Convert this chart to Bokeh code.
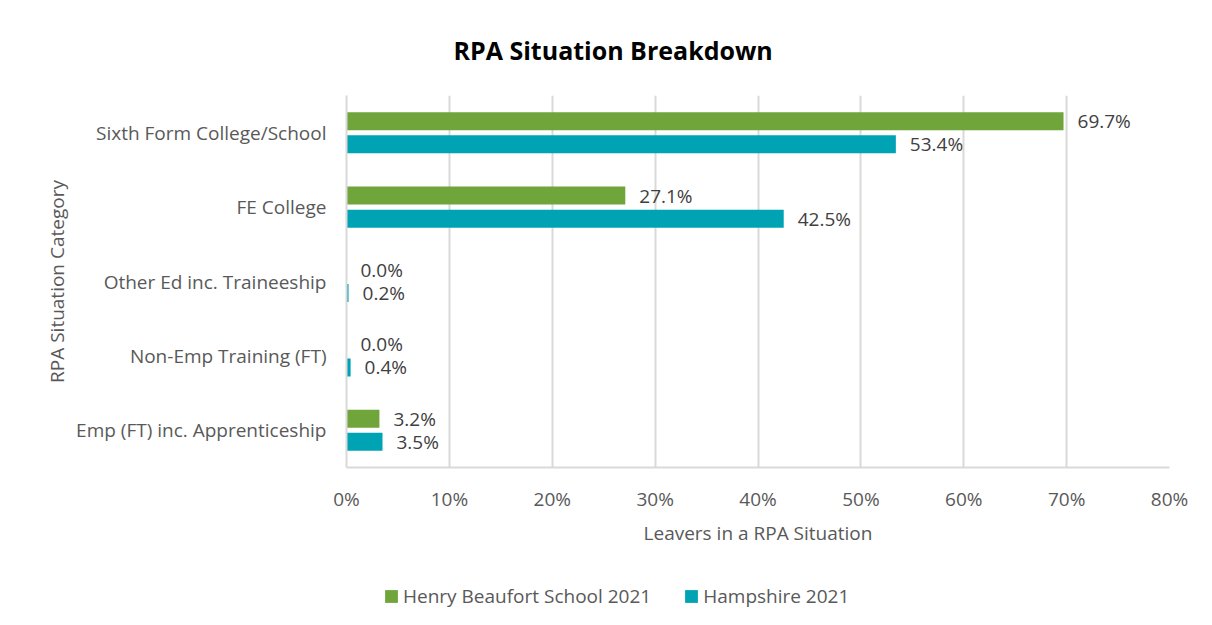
from bokeh.plotting import figure
from bokeh.layouts import column
from bokeh.models import ColumnDataSource, FactorRange, Legend, LegendItem, PrintfTickFormatter, FixedTicker
from bokeh.transform import dodge
from bokeh.core.properties import value
from bokeh.embed import file_html
from bokeh.resources import INLINE

categories = ["Sixth Form College/School", "FE College", "Other Ed inc. Traineeship",
              "Non-Emp Training (FT)", "Emp (FT) inc. Apprenticeship"]
henry_beaufort_2021 = [69.7, 27.1, 0.0, 0.0, 3.2]
hampshire_2021 = [53.4, 42.5, 0.2, 0.4, 3.5]
series_names = ["Henry Beaufort School 2021", "Hampshire 2021"]
x_ticks = [0, 10, 20, 30, 40, 50, 60, 70, 80]

GREEN = "#6FA53B"
TEAL = "#00A3B4"
FONT = "Open Sans"
FS = "19px"

src = ColumnDataSource(dict(
    cat=categories,
    hb=henry_beaufort_2021,
    hs=hampshire_2021,
    hb_lbl=[f"{v:.1f}%" for v in henry_beaufort_2021],
    hs_lbl=[f"{v:.1f}%" for v in hampshire_2021],
))

p = figure(width=1196, height=560, output_backend="svg", toolbar_location=None,
           y_range=FactorRange(*reversed(categories), range_padding=0),
           x_range=(0, 80),
           min_border_left=346, min_border_right=27, min_border_top=95, min_border_bottom=93)
p.outline_line_color = None
p.background_fill_color = "white"

p.title.text = "RPA Situation Breakdown"
p.title.align = "left"
p.title.offset = 107
p.title.text_font = FONT
p.title.text_font_size = "25px"
p.title.text_font_style = "bold"
p.title.text_color = "#000000"
p.title.standoff = 58

off = 0.155
h = 0.242
r1 = p.hbar(y=dodge("cat", off, range=p.y_range), right="hb", height=h, left=0, source=src,
            fill_color=GREEN, line_color=None)
r2 = p.hbar(y=dodge("cat", -off, range=p.y_range), right="hs", height=h, left=0, source=src,
            fill_color=TEAL, line_color=None)

for col, lbl, o in (("hb", "hb_lbl", off), ("hs", "hs_lbl", -off)):
    p.text(x=col, y=dodge("cat", o, range=p.y_range), text=lbl, source=src,
           x_offset=14, text_align="left", text_baseline="middle",
           text_font=value(FONT), text_font_size=FS, text_color="#404040")

p.xaxis.ticker = FixedTicker(ticks=x_ticks)
p.xaxis.formatter = PrintfTickFormatter(format="%d%%")
for ax in (p.xaxis[0], p.yaxis[0]):
    ax.major_tick_line_color = None
    ax.minor_tick_line_color = None
    ax.axis_line_color = "#D9D9D9"
    ax.axis_line_width = 2
    ax.major_label_text_font = FONT
    ax.major_label_text_font_size = FS
    ax.major_label_text_color = "#595959"
    ax.axis_label_text_font = FONT
    ax.axis_label_text_font_size = FS
    ax.axis_label_text_font_style = "normal"
    ax.axis_label_text_color = "#595959"
p.xaxis.major_label_standoff = 12
p.yaxis.major_label_standoff = 14
p.xaxis.axis_label = "Leavers in a RPA Situation"
p.xaxis.axis_label_standoff = 5
p.yaxis.axis_label = "RPA Situation Category"
p.yaxis.axis_label_standoff = 3

p.xgrid.grid_line_color = "#D9D9D9"
p.xgrid.grid_line_width = 2
p.ygrid.grid_line_color = None

# legend strip (proxy glyphs sit outside the visible range; only their legend swatches show)
lf = figure(width=1196, height=49, output_backend="svg", toolbar_location=None,
            x_range=(0, 1), y_range=(0, 1),
            min_border_left=0, min_border_right=0, min_border_top=0, min_border_bottom=0)
lf.axis.visible = False
lf.grid.visible = False
lf.outline_line_color = None
e = ColumnDataSource(dict(l=[5], r=[6], b=[5], t=[6]))
g1 = lf.quad(left="l", right="r", bottom="b", top="t", source=e, fill_color=GREEN, line_color=None)
g2 = lf.quad(left="l", right="r", bottom="b", top="t", source=e, fill_color=TEAL, line_color=None)
legend = Legend(items=[LegendItem(label=series_names[0], renderers=[g1]),
                       LegendItem(label=series_names[1], renderers=[g2])],
                orientation="horizontal", location=(37, 0),
                label_text_font=FONT, label_text_font_size=FS, label_text_color="#595959",
                glyph_width=16, glyph_height=16, spacing=32, padding=0, margin=0,
                border_line_color=None, background_fill_alpha=0, label_standoff=4)
lf.add_layout(legend, "center")

layout = column(p, lf, spacing=0)
open("out.html", "w").write(file_html(layout, INLINE))
